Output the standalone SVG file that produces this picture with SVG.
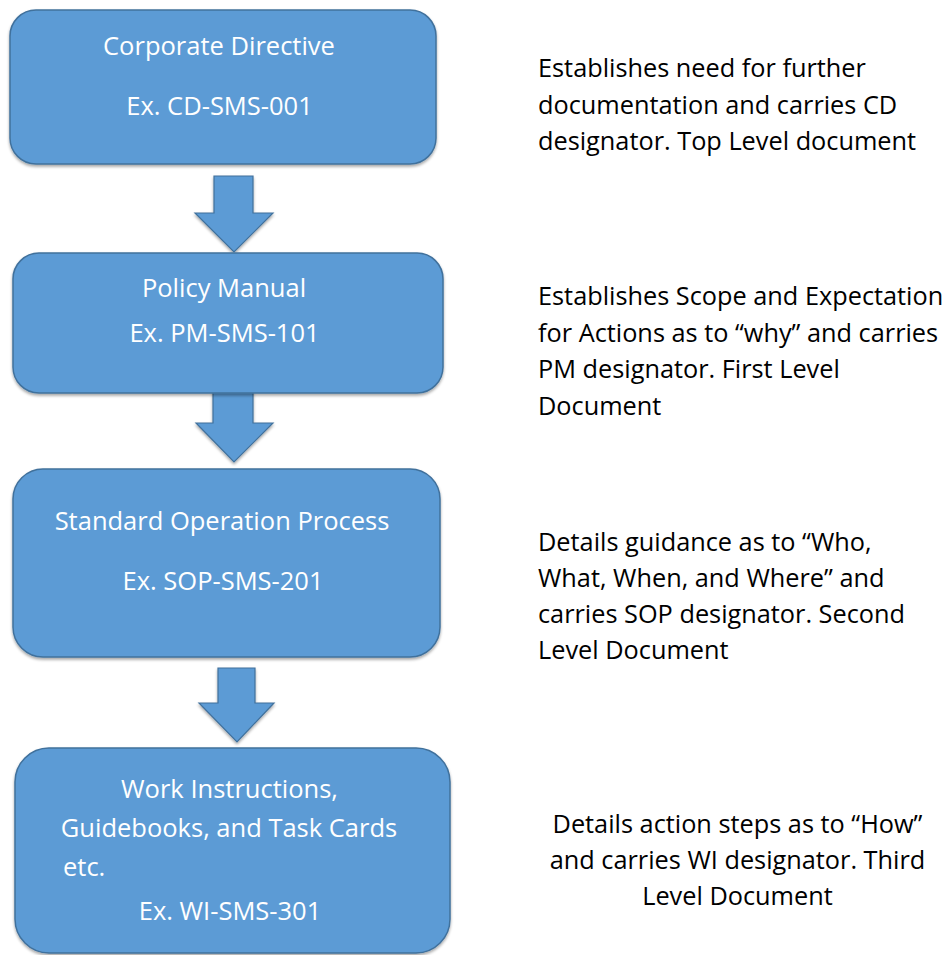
<svg xmlns="http://www.w3.org/2000/svg" width="949" height="955" viewBox="0 0 949 955">
<defs>
<style>
.box{fill:#5B9BD5;stroke:#41719C;stroke-width:1.5}
.arrow{fill:#5B9BD5;stroke:#41719C;stroke-width:1.2;stroke-linejoin:miter}
.bt{font-family:"Open Sans","Noto Sans","Liberation Sans",sans-serif;font-size:25.5px;fill:#FFFFFF;text-anchor:middle}
.bl{font-family:"Open Sans","Noto Sans","Liberation Sans",sans-serif;font-size:25.5px;fill:#FFFFFF}
.rt{font-family:"Open Sans","Noto Sans","Liberation Sans",sans-serif;font-size:25.3px;fill:#000000}
.rc{font-family:"Open Sans","Noto Sans","Liberation Sans",sans-serif;font-size:25.3px;fill:#000000;text-anchor:middle}
</style>
<filter id="sh" x="-5%" y="-5%" width="110%" height="115%">
<feGaussianBlur in="SourceAlpha" stdDeviation="1.5"/>
<feOffset dx="0" dy="1.5" result="b"/>
<feComponentTransfer><feFuncA type="linear" slope="0.35"/></feComponentTransfer>
<feMerge><feMergeNode/><feMergeNode in="SourceGraphic"/></feMerge>
</filter>
</defs>
<rect width="949" height="955" fill="#FFFFFF"/>

<g id="connectors">
<path class="arrow" filter="url(#sh)" d="M214,176 L253,176 L253,213 L273,213 L234,252 L195,213 L214,213 Z"/>
<path class="arrow" filter="url(#sh)" d="M213,390 L253,390 L253,423 L273,423 L234,462 L196,423 L213,423 Z"/>
<path class="arrow" filter="url(#sh)" d="M218,668 L255,668 L255,703 L274,703 L237,742 L199,703 L218,703 Z"/>
</g>

<g id="node-cd">
<rect class="box" filter="url(#sh)" x="10" y="10" width="426" height="154" rx="26" ry="26"/>
<text class="bt" x="219" y="55">Corporate Directive</text>
<text class="bt" x="219.5" y="115">Ex. CD-SMS-001</text>
</g>

<g id="node-pm">
<rect class="box" filter="url(#sh)" x="13" y="253" width="430" height="140" rx="26" ry="26"/>
<text class="bt" x="224" y="297">Policy Manual</text>
<text class="bt" x="224.5" y="342">Ex. PM-SMS-101</text>
</g>

<g id="node-sop">
<rect class="box" filter="url(#sh)" x="13" y="469" width="427" height="188" rx="30" ry="30"/>
<text class="bt" x="222" y="530">Standard Operation Process</text>
<text class="bt" x="223" y="590">Ex. SOP-SMS-201</text>
</g>

<g id="node-wi">
<rect class="box" filter="url(#sh)" x="15" y="748" width="435" height="205" rx="34" ry="34"/>
<text class="bt" x="229.5" y="798">Work Instructions,</text>
<text class="bt" x="229" y="837">Guidebooks, and Task Cards</text>
<text class="bl" x="63" y="876">etc.</text>
<text class="bt" x="230" y="920">Ex. WI-SMS-301</text>
</g>

<g id="desc-cd">
<text class="rt" x="538" y="77">Establishes need for further</text>
<text class="rt" x="538" y="113.5">documentation and carries CD</text>
<text class="rt" x="538" y="150">designator. Top Level document</text>
</g>

<g id="desc-pm">
<text class="rt" x="538" y="305">Establishes Scope and Expectation</text>
<text class="rt" x="538" y="341.5">for Actions as to “why” and carries</text>
<text class="rt" x="538" y="378">PM designator. First Level</text>
<text class="rt" x="538" y="414.5">Document</text>
</g>

<g id="desc-sop">
<text class="rt" x="538" y="551">Details guidance as to “Who,</text>
<text class="rt" x="538" y="587">What, When, and Where” and</text>
<text class="rt" x="538" y="623">carries SOP designator. Second</text>
<text class="rt" x="538" y="659">Level Document</text>
</g>

<g id="desc-wi">
<text class="rc" x="737.5" y="833">Details action steps as to “How”</text>
<text class="rc" x="737.5" y="869">and carries WI designator. Third</text>
<text class="rc" x="737.5" y="905">Level Document</text>
</g>
</svg>
